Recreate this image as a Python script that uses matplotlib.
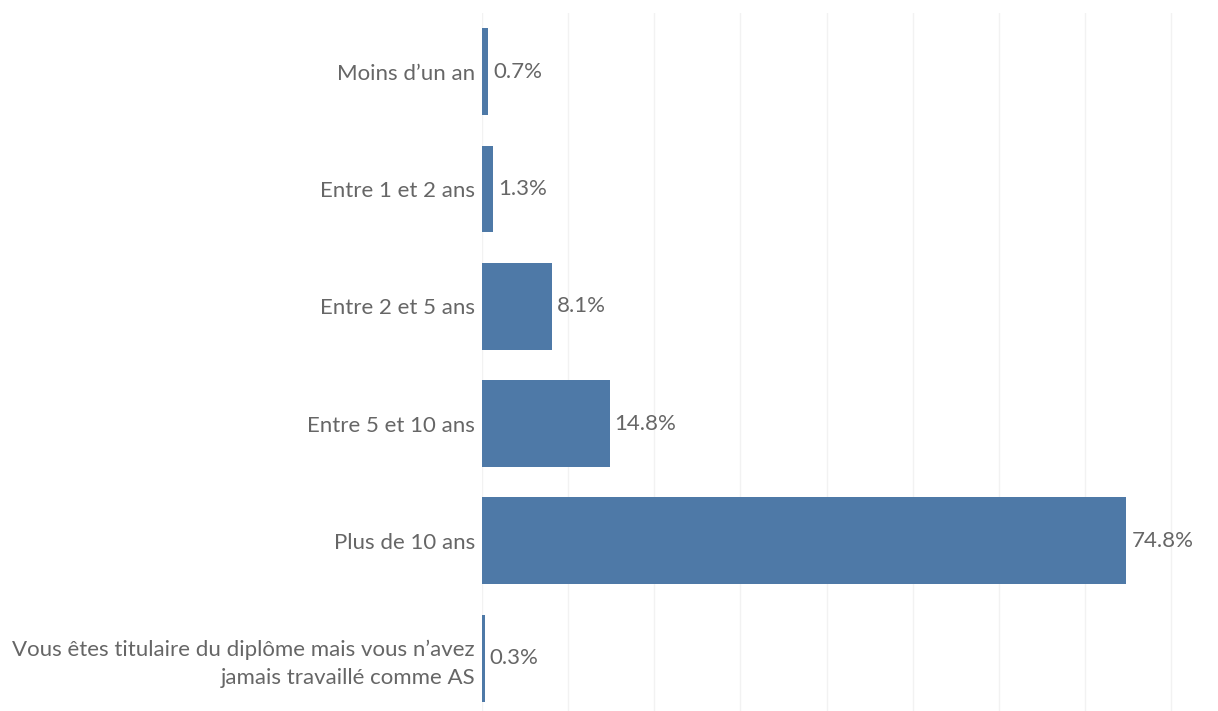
import matplotlib
matplotlib.use("Agg")
import matplotlib.pyplot as plt

categories = [
    "Moins d\u2019un an",
    "Entre 1 et 2 ans",
    "Entre 2 et 5 ans",
    "Entre 5 et 10 ans",
    "Plus de 10 ans",
    "Vous \u00eates titulaire du dipl\u00f4me mais vous n\u2019avez\njamais travaill\u00e9 comme AS",
]
values = [0.7, 1.3, 8.1, 14.8, 74.8, 0.3]
value_labels = ["0.7%", "1.3%", "8.1%", "14.8%", "74.8%", "0.3%"]

plt.rcParams["font.family"] = ["Lato", "DejaVu Sans"]

W, H = 1218, 711
fig = plt.figure(figsize=(W / 100, H / 100), dpi=100)
ax = fig.add_axes([482 / W, 0, (1210 - 482) / W, (H - 13) / H])

ypos = list(range(len(categories)))
ax.barh(ypos, values, height=0.74, color="#4e79a7", zorder=3)
ax.set_xlim(0, 84.5)
ax.set_ylim(-0.5 + (H - 13) / 117.3, -0.5)

ax.set_xticks(range(0, 90, 10))
ax.grid(axis="x", color="#f2f2f2", linewidth=1, zorder=0)
ax.tick_params(axis="x", length=0, labelbottom=False)
ax.tick_params(axis="y", length=0, pad=5)
ax.set_yticks(ypos)
ax.set_yticklabels(categories, fontsize=16, color="#666666", ha="right",
                   multialignment="right", linespacing=1.45)
for s in ax.spines.values():
    s.set_visible(False)

for y, v, lab in zip(ypos, values, value_labels):
    ax.text(v + 0.6, y, lab, va="center", ha="left", fontsize=16, color="#666666")

fig.savefig("out.png", dpi=100)
